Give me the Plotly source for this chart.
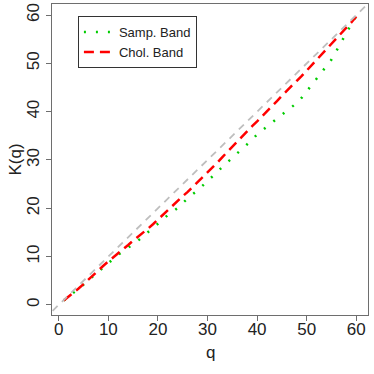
import plotly.graph_objects as go

q = list(range(1, 61))

chol_band = [0.9, 1.7, 2.5, 3.4, 4.3, 5.3, 6.3, 7.2, 8.1, 9.0,
             9.8, 10.7, 11.5, 12.4, 13.3, 14.1, 14.9, 15.8, 16.7, 17.7,
             18.6, 19.5, 20.5, 21.5, 22.5, 23.4, 24.4, 25.3, 26.3, 27.3,
             28.4, 29.5, 30.6, 31.7, 32.8, 33.9, 34.9, 35.9, 37.0, 38.0,
             39.0, 40.0, 41.1, 42.2, 43.3, 44.4, 45.4, 46.4, 47.4, 48.5,
             49.6, 50.7, 51.8, 52.9, 53.9, 55.1, 56.2, 57.4, 58.5, 59.7]

samp_band = [0.9, 1.7, 2.5, 3.4, 4.2, 5.1, 6.0, 6.9, 7.8, 8.7,
             9.6, 10.4, 11.1, 11.8, 12.5, 13.3, 14.2, 15.0, 15.9, 16.8,
             17.8, 18.6, 19.3, 20.1, 21.1, 22.1, 22.9, 23.7, 24.6, 25.6,
             26.6, 27.6, 28.6, 29.5, 30.5, 31.4, 32.3, 33.2, 34.2, 35.3,
             36.1, 36.9, 37.7, 38.5, 39.4, 40.2, 41.0, 41.8, 42.9, 44.2,
             45.5, 46.8, 48.0, 49.3, 50.8, 52.6, 54.3, 56.3, 58.1, 59.8]

ref_line = [-5, 70]  # y = x reference line
tick_vals = [0, 10, 20, 30, 40, 50, 60]

FONT = "Liberation Sans, Arial, Helvetica, sans-serif"
AXC = "#6e6e6e"

fig = go.Figure()
fig.add_trace(go.Scatter(x=q, y=samp_band, mode="lines", name="Samp. Band",
                         line=dict(color="#00cc00", width=2.5, dash="2px,10px")))
fig.add_trace(go.Scatter(x=q, y=chol_band, mode="lines", name="Chol. Band",
                         line=dict(color="#ff0000", width=2.5, dash="10px,6px")))
fig.add_trace(go.Scatter(x=ref_line, y=ref_line, mode="lines", showlegend=False,
                         line=dict(color="#bebebe", width=1.8, dash="7px,6px")))

fig.update_layout(
    width=374, height=374,
    margin=dict(l=52, r=6, t=4, b=59, autoexpand=False),
    paper_bgcolor="white", plot_bgcolor="white",
    font=dict(family=FONT, size=17, color="#222"),
    showlegend=True,
    legend=dict(x=0.082, y=0.961, xanchor="left", yanchor="top",
                bordercolor="#333", borderwidth=1, bgcolor="white",
                font=dict(size=13, color="#222"),
                itemwidth=30, tracegroupgap=0),
    annotations=[
        dict(text="q", xref="paper", yref="paper", x=0.5, y=-0.119,
             xanchor="center", yanchor="middle", showarrow=False,
             font=dict(size=17, color="#222")),
        dict(text="K(q)", xref="paper", yref="paper", x=-0.117, y=0.5,
             xanchor="center", yanchor="middle", showarrow=False, textangle=-90,
             font=dict(size=17, color="#222")),
    ],
)
fig.update_xaxes(range=[-1.36, 62.36], tickvals=tick_vals, ticks="outside",
                 ticklen=5, tickcolor=AXC, showline=True, linecolor=AXC,
                 linewidth=1.3, mirror=True, showgrid=False, zeroline=False,
                 automargin=False, ticklabelstandoff=-7)
fig.update_yaxes(range=[-2.1, 62.3], tickvals=tick_vals, ticks="outside",
                 ticklen=5, tickcolor=AXC, showline=True, linecolor=AXC,
                 linewidth=1.3, mirror=True, showgrid=False, zeroline=False,
                 tickangle=-90, automargin=False)

fig.write_html("out.html", config={"displayModeBar": False},
               post_script="document.body.style.margin='0px';document.body.style.overflow='hidden';")
